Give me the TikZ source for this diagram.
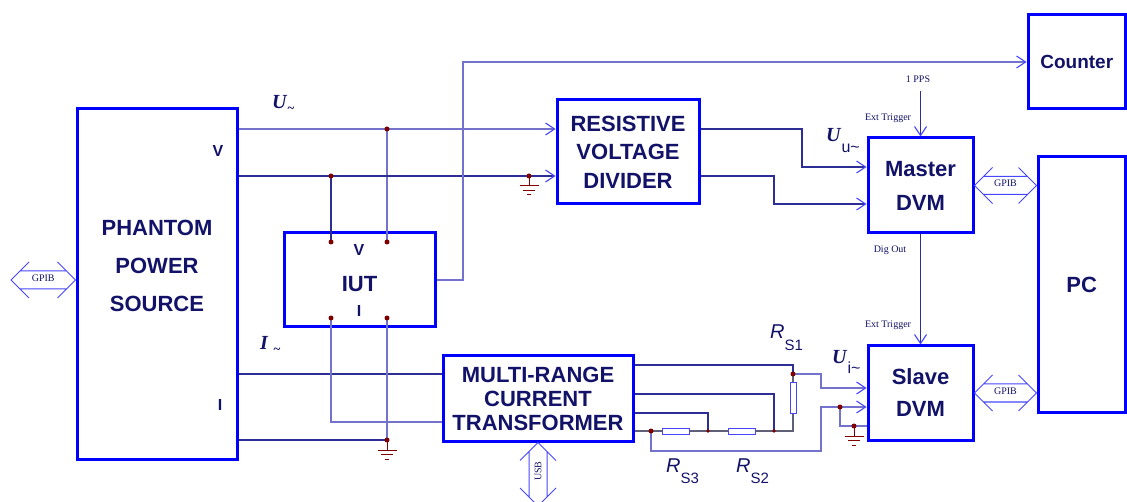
\documentclass[tikz,border=0pt]{standalone}
\usepackage{fontspec}
\setmainfont{Liberation Serif}
\setsansfont{Liberation Sans}
\usetikzlibrary{arrows.meta, positioning, calc}
\definecolor{boxblue}{RGB}{0,0,255}
\definecolor{inkblue}{RGB}{18,18,105}
\definecolor{wiredark}{RGB}{45,45,150}
\definecolor{wirelight}{RGB}{115,115,205}
\definecolor{wiregray}{RGB}{95,95,120}
\definecolor{tipblue}{RGB}{70,70,255}
\definecolor{dotred}{RGB}{128,0,0}
\tikzset{
  block/.style={
	draw=boxblue, line width=3pt, % thick blue frame of every unit
	text=inkblue, align=center, inner sep=0pt,
	font=\sffamily\bfseries\fontsize{22}{#1}\selectfont, % #1 is the line spacing
  },
  block/.default=30,
  wire/.style={draw=wiredark, line width=1.1pt},
  wirelt/.style={draw=wirelight, line width=1.1pt},
  wiregy/.style={draw=wiregray, line width=1.1pt},
  feed/.style={-{Straight Barb[length=9pt, width=12pt, color=tipblue]}}, % open blue chevron
  tag/.style={text=inkblue, inner sep=0pt, font=\fontsize{10}{12}\selectfont},
  pin/.style={text=inkblue, inner sep=0pt, font=\sffamily\bfseries\fontsize{16}{16}\selectfont},
  sym/.style={text=inkblue, inner sep=0pt, font=\fontsize{20}{20}\selectfont},
  res/.style={draw=tipblue, fill=white, line width=1pt, inner sep=0pt},
  bus/.style={draw=tipblue, line width=1pt},
  ground/.pic={
	\draw[dotred, line width=1pt] (0,0) -- (0,10) (-9.5,10) -- (9.5,10)
	  (-6,14.5) -- (6,14.5) (-2,19) -- (2,19);
  },
}
% horizontal bus: left tip, right tip, label, label name
\newcommand{\hbus}[4]{%
  \draw[bus] ([shift={(18pt,18pt)}]#1) -- (#1) -- ([shift={(18pt,-18pt)}]#1)
	([shift={(-18pt,18pt)}]#2) -- (#2) -- ([shift={(-18pt,-18pt)}]#2)
	([shift={(9pt,9pt)}]#1) -- ([shift={(-9pt,9pt)}]#2)
	([shift={(9pt,-9pt)}]#1) -- ([shift={(-9pt,-9pt)}]#2);
  \node[tag] (#4) at ($(#1)!0.5!(#2)+(0,-2)$) {#3};}
% vertical bus: top tip, bottom tip, label, label name
\newcommand{\vbus}[4]{%
  \draw[bus] ([shift={(-18pt,-18pt)}]#1) -- (#1) -- ([shift={(18pt,-18pt)}]#1)
	([shift={(-18pt,18pt)}]#2) -- (#2) -- ([shift={(18pt,18pt)}]#2)
	([shift={(-9pt,-9pt)}]#1) -- ([shift={(-9pt,9pt)}]#2)
	([shift={(9pt,-9pt)}]#1) -- ([shift={(9pt,9pt)}]#2);
  \node[tag, rotate=90] (#4) at ($(#1)!0.45!(#2)$) {#3};}

\begin{document}
\begin{tikzpicture}[x=1pt, y=-1pt]
\useasboundingbox (0,0) rectangle (1127,502);

\node[block, minimum width=160pt, minimum height=350pt] (pps) at (157,284) {};
\node[block=38, draw=none] (ppstext) at (157,266) {PHANTOM\\POWER\\SOURCE};
\node[block, text height=24pt, minimum width=151pt, minimum height=94pt] (iut) at (359.5,280) {IUT};
\node[block=28.5, minimum width=142pt, minimum height=104pt] (rvd) at (628,152) {RESISTIVE\\VOLTAGE\\DIVIDER};
\node[block=24, minimum width=190pt, minimum height=85pt] (mrct) at (538,398.5) {MULTI-RANGE\\CURRENT\\TRANSFORMER};
\node[block=34, minimum width=105pt, minimum height=95pt] (master) at (920.5,185.5) {Master\\DVM};
\node[block=32, minimum width=105pt, minimum height=94pt] (slave) at (920.5,393) {Slave\\DVM};
\node[block, font=\sffamily\bfseries\fontsize{19}{19}\selectfont, minimum width=97.5pt, minimum height=94pt] (counter) at (1076.75,62) {Counter};
\node[block, minimum width=87.5pt, minimum height=255pt] (pc) at (1081.75,284.5) {PC};

\node[pin] (ppsv) at (218,151) {V};
\node[pin] (ppsi) at (220,405) {I};
\node[pin] (iutv) at (359,250) {V};
\node[pin] (iuti) at (359,311) {I};

\node[res, minimum width=6pt, minimum height=30pt] (rs1) at (793,398) {};
\node[res, minimum width=27pt, minimum height=6pt] (rs2) at (741.5,431) {};
\node[res, minimum width=27pt, minimum height=6pt] (rs3) at (675.5,431) {};

\coordinate (jv1) at (387,129);
\coordinate (jv2) at (331,176);
\coordinate (iutv1) at (331,242);
\coordinate (iutv2) at (387,242);
\coordinate (iuti1) at (331,318);
\coordinate (iuti2) at (387,318);
\coordinate (gnd1) at (387,440);
\coordinate (gnd2) at (529,176);
\coordinate (tap) at (463,62);
\coordinate (ppsin) at (920.5,91);
\coordinate (rs1top) at (793,374);
\coordinate (c1) at (651,431);
\coordinate (c2) at (708,431);
\coordinate (c3) at (774,431);
\coordinate (sgj) at (840,407);
\coordinate (gnd3) at (854,426);
\coordinate (gpibl) at (11,280);
\coordinate (gpibm) at (pc.west |- master.east);
\coordinate (gpibs) at (pc.west |- slave.east);
\coordinate (usbend) at (538,506);

\draw[wirelt, feed] (pps.east |- jv1) -- (rvd.west |- jv1);
\draw[wirelt] (jv1) -- (iutv2);
\draw[wire, feed] (pps.east |- jv2) -- (rvd.west |- jv2);
\draw[wire] (jv2) -- (iutv1);
\draw[wirelt, feed] (iut.east) -| (tap) -- (counter.west);
\draw[wire, feed] (rvd.east |- jv1) -| (802,167) -- ([yshift=18.5pt]master.west);
\draw[wire, feed] (rvd.east |- jv2) -| (774,204) -- ([yshift=-18.5pt]master.west);
\draw[wire, feed] (ppsin) -- (master.north);
\draw[wire, feed] (master.south) -- (slave.north);
\draw[wire] (pps.east |- 0,374) -- (mrct.west |- 0,374);
\draw[wirelt] (iuti1) |- (mrct.west |- 0,422);
\draw[wirelt] (iuti2) -- (gnd1);
\draw[wire] (pps.east |- gnd1) -- (gnd1);
\draw[wire] (mrct.east |- 0,365) -| (rs1top);
\draw[wire] (mrct.east |- 0,394) -| (c3);
\draw[wire] (mrct.east |- 0,413) -| (c2);
\draw[wiregy] (rs1top) -- (rs1.north) (rs1.south) |- (c3);
\draw[wiregy] (mrct.east |- c1) -- (c1) -- (rs3.west) (rs3.east) -- (c2) -- (rs2.west) (rs2.east) -- (c3);
\draw[wirelt, feed] (rs1top) -| (821,388) -- ([yshift=5pt]slave.west);
\draw[wirelt, feed] (c1) |- (821,451) |- ([yshift=-14pt]slave.west);
\draw[wirelt] (sgj) |- ([yshift=-33pt]slave.west);

\pic at (gnd1) {ground};
\pic at (gnd2) {ground};
\pic at (gnd3) {ground};
\foreach \j in {jv1,jv2,iutv1,iutv2,iuti1,iuti2,gnd1,gnd2,rs1top,c1,sgj,gnd3}
  \fill[dotred] (\j) circle (2.5pt);
\foreach \j in {c2,c3}
  \fill[dotred] (\j) circle (1.8pt);

\hbus{gpibl}{pps.west |- gpibl}{GPIB}{gpibtagl}
\hbus{master.east}{gpibm}{GPIB}{gpibtagm}
\hbus{slave.east}{gpibs}{GPIB}{gpibtags}
\vbus{mrct.south}{usbend}{USB}{usbtag}

\node[tag] (onepps) at (918,79) {1 PPS};
\node[tag] (trigm) at (888,118) {Ext Trigger};
\node[tag] (digout) at (890,250) {Dig Out};
\node[tag] (trigs) at (888,325) {Ext Trigger};

\node[sym, anchor=base west] (ulabel) at (272,109) {\textbf{\textit{U}}\raisebox{-4pt}{\fontsize{13}{13}\selectfont\bfseries\textasciitilde}};
\node[sym, anchor=base west] (ilabel) at (260,350) {\textbf{\textit{I}}\hspace{5pt}\raisebox{-4pt}{\fontsize{13}{13}\selectfont\bfseries\textasciitilde}};
\node[sym, anchor=base west] (uulabel) at (826,142) {\textbf{\textit{U}}\raisebox{-11pt}{\sffamily\fontsize{16}{16}\selectfont u\textasciitilde}};
\node[sym, anchor=base west] (uilabel) at (832,363) {\textbf{\textit{U}}\raisebox{-10pt}{\sffamily\fontsize{16}{16}\selectfont i\textasciitilde}};
\node[sym, anchor=base west] (rs1tag) at (770,339) {\sffamily\itshape R\upshape\raisebox{-12pt}{\fontsize{15}{15}\selectfont S1}};
\node[sym, anchor=base west] (rs3tag) at (666,472) {\sffamily\itshape R\upshape\raisebox{-11pt}{\fontsize{15}{15}\selectfont S3}};
\node[sym, anchor=base west] (rs2tag) at (736,472) {\sffamily\itshape R\upshape\raisebox{-11pt}{\fontsize{15}{15}\selectfont S2}};
\end{tikzpicture}
\end{document}
